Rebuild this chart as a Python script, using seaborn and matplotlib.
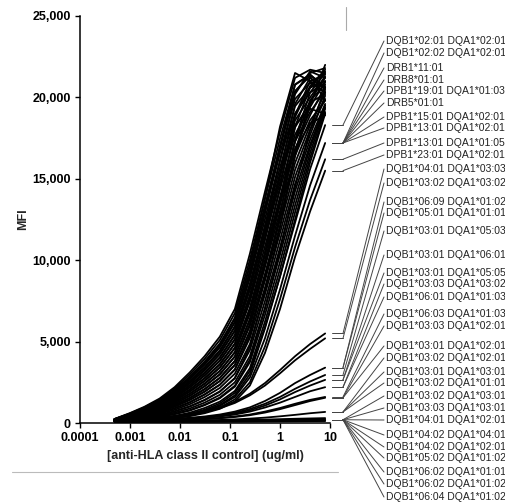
import pandas as pd
import seaborn as sns
import matplotlib.pyplot as plt
from matplotlib.lines import Line2D
from matplotlib.ticker import FixedLocator, FuncFormatter

# antibody concentration (ug/ml), 2-fold dilution series
conc = [0.00049, 0.00098, 0.00195, 0.0039, 0.0078, 0.0156, 0.031, 0.0625,
        0.125, 0.25, 0.5, 1, 2, 4, 8]

# MFI of the high responding beads (unlabelled bundle)
bundle = [
    [250, 600, 1000, 1500, 2200, 3100, 4100, 5300, 7000, 10400, 14200, 17900, 21200, 21700, 21500],
    [240, 580, 960, 1440, 2110, 2970, 3930, 5090, 6740, 10030, 13780, 17460, 20770, 21400, 20600],
    [240, 560, 920, 1380, 2020, 2840, 3770, 4880, 6470, 9660, 13360, 17010, 20330, 21500, 21800],
    [230, 530, 880, 1310, 1920, 2710, 3600, 4670, 6200, 9290, 12940, 16570, 19900, 20900, 20300],
    [230, 510, 840, 1250, 1830, 2580, 3430, 4460, 5940, 8920, 12520, 16120, 19460, 20600, 21600],
    [220, 490, 800, 1190, 1740, 2450, 3260, 4250, 5680, 8550, 12100, 15680, 19030, 20300, 20900],
    [210, 470, 760, 1130, 1650, 2320, 3100, 4040, 5410, 8180, 11680, 15230, 18590, 20000, 21300],
    [210, 450, 720, 1070, 1550, 2190, 2930, 3830, 5150, 7810, 11260, 14790, 18160, 19700, 20200],
    [200, 420, 680, 1000, 1460, 2060, 2760, 3620, 4880, 7440, 10840, 14340, 17720, 19400, 21000],
    [200, 400, 640, 940, 1370, 1930, 2590, 3410, 4620, 7070, 10420, 13900, 17290, 19100, 20400],
    [190, 380, 600, 880, 1280, 1800, 2430, 3200, 4350, 6700, 10000, 13450, 16850, 18900, 20700],
    [180, 360, 560, 820, 1180, 1670, 2260, 2990, 4090, 6330, 9580, 13010, 16420, 18600, 19800],
    [180, 340, 520, 760, 1090, 1540, 2090, 2780, 3820, 5960, 9160, 12560, 15980, 18300, 20300],
    [170, 310, 480, 690, 1000, 1410, 1920, 2570, 3560, 5590, 8740, 12120, 15550, 18000, 19900],
    [170, 290, 440, 630, 910, 1280, 1760, 2360, 3290, 5220, 8320, 11670, 15110, 17700, 20100],
    [160, 270, 400, 570, 810, 1150, 1590, 2150, 3030, 4850, 7900, 11230, 14680, 17400, 19600],
    [150, 250, 360, 510, 720, 1020, 1420, 1940, 2760, 4480, 7480, 10780, 14240, 17100, 19500],
    [150, 230, 320, 450, 630, 890, 1250, 1730, 2500, 4110, 7060, 10340, 13810, 16900, 19400],
    [140, 200, 280, 380, 540, 760, 1090, 1520, 2230, 3740, 6640, 9890, 13370, 16600, 19300],
    [140, 180, 240, 320, 440, 630, 920, 1310, 1970, 3370, 6220, 9450, 12940, 16300, 19100],
    [130, 160, 200, 260, 350, 500, 750, 1100, 1700, 3000, 5800, 9000, 12500, 16000, 19000],
    [230, 550, 900, 1350, 1980, 2790, 3700, 4800, 6400, 9700, 13800, 18200, 21500, 21000, 20300],
    [220, 500, 820, 1230, 1800, 2540, 3380, 4400, 5900, 9000, 12900, 17000, 20800, 21400, 20600],
    [210, 460, 750, 1110, 1620, 2290, 3060, 4000, 5380, 8300, 12100, 16100, 20200, 21600, 21200],
    [200, 420, 670, 990, 1440, 2030, 2730, 3590, 4860, 7600, 11300, 15300, 19600, 21200, 20500],
    [190, 370, 590, 870, 1260, 1780, 2400, 3180, 4340, 6900, 10500, 14500, 18900, 21000, 21400],
    [180, 330, 510, 740, 1070, 1520, 2070, 2760, 3800, 6100, 9700, 13600, 18200, 20600, 21000],
    [160, 290, 430, 620, 890, 1260, 1740, 2340, 3280, 5400, 8900, 12800, 17400, 20300, 21500],
    [150, 250, 350, 500, 710, 1010, 1400, 1920, 2750, 4700, 8100, 12000, 16600, 19800, 20800],
    [220, 480, 790, 1180, 1720, 2430, 3240, 4230, 5650, 8500, 11900, 15300, 18300, 19300, 19000],
    [190, 400, 630, 930, 1360, 1920, 2580, 3400, 4600, 7000, 10300, 13600, 16800, 18400, 18900],
    [170, 320, 490, 700, 1010, 1420, 1930, 2580, 3570, 5650, 8900, 12500, 16400, 19500, 22000],
    [200, 440, 710, 1060, 1540, 2180, 2910, 3810, 5130, 7850, 11400, 15100, 18800, 20700, 21700],
    [180, 350, 550, 810, 1170, 1660, 2250, 2980, 4080, 6400, 9800, 13400, 17300, 19800, 21200],
    [230, 530, 870, 1300, 1900, 2690, 3580, 4650, 6180, 9300, 13100, 16900, 20400, 21300, 19800],
    [140, 210, 290, 400, 560, 790, 1120, 1560, 2290, 3900, 7000, 10600, 14500, 18000, 20600],
]

# beads with a lower plateau (upper labelled group)
mid = [
    [130, 170, 220, 290, 390, 560, 820, 1200, 1850, 3200, 5900, 9000, 12300, 15600, 18300],
    [130, 160, 200, 260, 350, 490, 720, 1050, 1600, 2800, 5200, 8200, 11500, 14600, 17200],
    [120, 150, 190, 240, 320, 450, 650, 950, 1450, 2500, 4700, 7600, 10800, 13700, 16200],
    [120, 150, 180, 230, 300, 420, 600, 870, 1320, 2300, 4300, 7000, 10200, 13000, 15500],
]

# weak responders
low = [
    [200, 230, 270, 330, 420, 540, 720, 950, 1300, 1800, 2450, 3250, 4100, 4850, 5500],
    [190, 220, 260, 310, 400, 510, 680, 900, 1230, 1700, 2300, 3050, 3850, 4550, 5200],
    [150, 170, 190, 220, 260, 320, 400, 520, 700, 960, 1350, 1850, 2450, 2950, 3400],
    [150, 160, 180, 200, 240, 290, 360, 470, 630, 860, 1180, 1600, 2100, 2550, 2950],
    [140, 150, 170, 190, 220, 270, 340, 430, 570, 780, 1070, 1450, 1900, 2300, 2650],
    [130, 150, 160, 180, 210, 250, 310, 400, 520, 700, 950, 1250, 1600, 1950, 2200],
    [120, 130, 140, 160, 180, 210, 250, 310, 400, 520, 700, 920, 1180, 1420, 1600],
    [120, 130, 140, 150, 170, 200, 240, 290, 370, 480, 640, 850, 1100, 1350, 1550],
    [100, 110, 115, 120, 130, 145, 160, 185, 220, 270, 330, 410, 500, 600, 680],
    [100, 105, 110, 115, 120, 130, 140, 155, 170, 190, 210, 235, 260, 280, 300],
    [90, 95, 100, 105, 110, 115, 125, 135, 145, 160, 175, 190, 210, 225, 240],
    [80, 85, 88, 92, 96, 100, 106, 112, 120, 130, 140, 152, 165, 175, 185],
    [70, 72, 75, 78, 82, 86, 90, 95, 100, 107, 115, 124, 134, 145, 155],
    [60, 62, 64, 66, 68, 70, 74, 78, 82, 88, 94, 100, 108, 115, 120],
]

allele_labels = [
    "DQB1*02:01 DQA1*02:01", "DQB1*02:02 DQA1*02:01", "DRB1*11:01", "DRB8*01:01",
    "DPB1*19:01 DQA1*01:03", "DRB5*01:01", "DPB1*15:01 DQA1*02:01",
    "DPB1*13:01 DQA1*02:01", "DPB1*13:01 DQA1*01:05", "DPB1*23:01 DQA1*02:01",
    "DQB1*04:01 DQA1*03:03", "DQB1*03:02 DQA1*03:02", "DQB1*06:09 DQA1*01:02",
    "DQB1*05:01 DQA1*01:01", "DQB1*03:01 DQA1*05:03", "DQB1*03:01 DQA1*06:01",
    "DQB1*03:01 DQA1*05:05", "DQB1*03:03 DQA1*03:02", "DQB1*06:01 DQA1*01:03",
    "DQB1*06:03 DQA1*01:03", "DQB1*03:03 DQA1*02:01", "DQB1*03:01 DQA1*02:01",
    "DQB1*03:02 DQA1*02:01", "DQB1*03:01 DQA1*03:01", "DQB1*03:02 DQA1*01:01",
    "DQB1*03:02 DQA1*03:01", "DQB1*03:03 DQA1*03:01", "DQB1*04:01 DQA1*02:01",
    "DQB1*04:02 DQA1*04:01", "DQB1*04:02 DQA1*02:01", "DQB1*05:02 DQA1*01:02",
    "DQB1*06:02 DQA1*01:01", "DQB1*06:02 DQA1*01:02", "DQB1*06:04 DQA1*01:02",
]
# MFI at 8 ug/ml of the curve each label points to
label_anchor = [
    18300, 17200, 17200, 17200, 17200, 17200, 17200, 17200, 16200, 15500,
    5500, 5200, 3400, 3400, 2950, 2650, 2650, 2200, 2200, 1600, 1550, 1550,
    680, 680, 680, 200, 200, 200, 200, 200, 200, 200, 200, 200,
]

# layout (pixels from top of the 506x504 figure)
W, H = 506, 504
label_py = [41, 53, 68, 80, 91, 103, 117, 128, 143, 155,
            169, 183, 202, 213, 231, 255, 273, 284, 297, 314, 326, 346,
            358, 372, 383, 396, 408, 420, 435, 447, 458, 472, 484, 497]

rows = []
for i, curve in enumerate(bundle + mid + low):
    for c, v in zip(conc, curve):
        rows.append({"curve": i, "conc": c, "mfi": v})
df = pd.DataFrame(rows)

sns.set_style("ticks")
plt.rcParams["font.family"] = ["Liberation Sans", "DejaVu Sans"]

fig = plt.figure(figsize=(W / 100, H / 100), dpi=100)
ax = fig.add_axes([80 / W, 1 - 423 / H, 250 / W, 407 / H])

sns.lineplot(data=df, x="conc", y="mfi", units="curve", estimator=None,
             color="black", lw=1.3, legend=False, ax=ax)

ax.set_xscale("log")
ax.set_xlim(1e-4, 10)
ax.set_ylim(0, 25000)
xt = [0.0001, 0.001, 0.01, 0.1, 1, 10]
ax.xaxis.set_major_locator(FixedLocator(xt))
ax.xaxis.set_minor_locator(FixedLocator([]))
ax.set_xticklabels(["0.0001", "0.001", "0.01", "0.1", "1", "10"])
ax.set_yticks([0, 5000, 10000, 15000, 20000, 25000])
ax.yaxis.set_major_formatter(FuncFormatter(lambda v, p: f"{v:,.0f}"))
for lab in ax.get_xticklabels() + ax.get_yticklabels():
    lab.set_fontweight("bold")
    lab.set_fontsize(9)
ax.tick_params(length=3.5, width=1, pad=3, colors="black")
for s in ["left", "bottom"]:
    ax.spines[s].set_linewidth(1.1)
    ax.spines[s].set_color("black")
sns.despine(ax=ax)

ax.set_xlabel("[anti-HLA class II control] (ug/ml)", fontsize=9, fontweight="bold", labelpad=4)
ax.set_ylabel("MFI", fontsize=9, fontweight="bold")
ax.yaxis.set_label_coords(-0.205, 0.5)

# leader lines from curve ends to allele labels
inv = fig.transFigure.inverted()
for lab, v, py in zip(allele_labels, label_anchor, label_py):
    yf = inv.transform(ax.transData.transform((1, v)))[1]
    ty = 1 - py / H
    fig.add_artist(Line2D([332 / W, 343 / W], [yf, yf], color="#444444", lw=0.7))
    fig.add_artist(Line2D([343 / W, 384 / W], [yf, ty], color="#444444", lw=0.7))
    fig.text(386 / W, ty, lab, fontsize=7.5, va="center", ha="left", color="#222222")

# stray rules from the original composite
fig.add_artist(Line2D([12 / W, 338 / W], [1 - 472 / H] * 2, color="#bbbbbb", lw=0.8))
fig.add_artist(Line2D([346 / W] * 2, [1 - 7 / H, 1 - 30 / H], color="#aaaaaa", lw=0.8))

fig.savefig("out.png", dpi=100)
